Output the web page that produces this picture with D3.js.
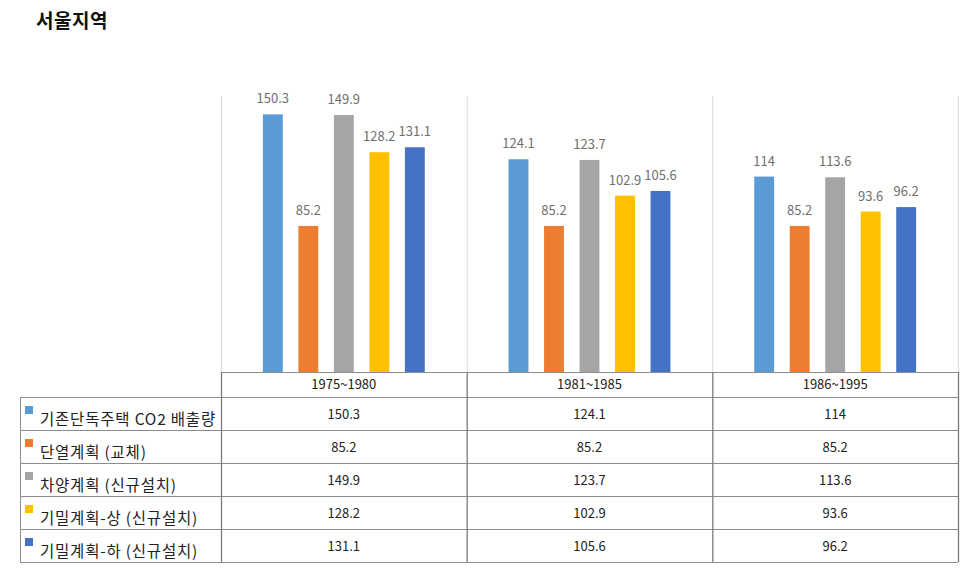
<!DOCTYPE html>
<html><head><meta charset="utf-8">
<script src="https://cdn.jsdelivr.net/npm/d3@7/dist/d3.min.js"></script>
<style>body{margin:0;background:#fff;}svg{display:block;}</style>
</head><body>
<svg id="c" width="963" height="578"></svg>
<script>
const title = "서울지역";
const categories = ["1975~1980", "1981~1985", "1986~1995"];
const seriesNames = ["기존단독주택 CO2 배출량", "단열계획 (교체)", "차양계획 (신규설치)", "기밀계획-상 (신규설치)", "기밀계획-하 (신규설치)"];
const seriesColors = ["#5B9BD5", "#ED7D31", "#A5A5A5", "#FFC000", "#4472C4"];
const s1 = [150.3, 124.1, 114];
const s2 = [85.2, 85.2, 85.2];
const s3 = [149.9, 123.7, 113.6];
const s4 = [128.2, 102.9, 93.6];
const s5 = [131.1, 105.6, 96.2];
const seriesValues = [s1, s2, s3, s4, s5];
const yMax = 161;

const svg = d3.select("#c");
const font = "'Noto Sans CJK KR','Noto Sans',sans-serif";
const L = 221, R = 958, T = 96, B = 372;
const tableLeft = 20;
const headerBottom = 397, rowH = 33;

svg.append("text").attr("x", 36).attr("y", 28).text(title)
  .attr("font-family", font).attr("font-size", 19).attr("font-weight", "bold").attr("fill", "#111")
  .attr("letter-spacing", 0.5);

const x0 = d3.scaleBand().domain(categories).range([L, R]).padding(0);
const x1 = d3.scaleBand().domain(d3.range(seriesNames.length)).range([0, x0.bandwidth()]).paddingInner(0.44).paddingOuter(1.18);
const y = d3.scaleLinear().domain([0, yMax]).range([B, T]);

// vertical category separators in plot area
const seps = categories.map(c => x0(c)).concat([R]);
svg.append("g").selectAll("line").data(seps).join("line")
  .attr("x1", d => d + 0.5).attr("x2", d => d + 0.5).attr("y1", T).attr("y2", B)
  .attr("stroke", "#d9d9d9").attr("stroke-width", 1);

// bars
const g = svg.append("g");
seriesValues.forEach((vals, si) => {
  g.append("g").selectAll("rect").data(vals).join("rect")
    .attr("x", (d, i) => x0(categories[i]) + x1(si))
    .attr("width", x1.bandwidth())
    .attr("y", d => y(d))
    .attr("height", d => B - y(d))
    .attr("fill", seriesColors[si]);
  g.append("g").selectAll("text").data(vals).join("text")
    .attr("x", (d, i) => x0(categories[i]) + x1(si) + x1.bandwidth() / 2)
    .attr("y", d => y(d) - 11)
    .attr("text-anchor", "middle")
    .attr("font-family", font).attr("font-size", 13).attr("fill", "#6f6f6f")
    .text(d => d);
});

// data table
const tg = svg.append("g");
const lineCol = "#8c8c8c";
const tableBottom = headerBottom + rowH * seriesNames.length;
tg.append("line").attr("x1", L).attr("x2", R).attr("y1", B + 0.5).attr("y2", B + 0.5).attr("stroke", lineCol);
d3.range(seriesNames.length + 1).forEach(i => {
  const yy = headerBottom + i * rowH + 0.5;
  tg.append("line").attr("x1", tableLeft).attr("x2", R).attr("y1", yy).attr("y2", yy).attr("stroke", lineCol);
});
tg.append("line").attr("x1", tableLeft + 0.5).attr("x2", tableLeft + 0.5).attr("y1", headerBottom).attr("y2", tableBottom).attr("stroke", lineCol);
seps.forEach(sx => {
  tg.append("line").attr("x1", sx + 0.5).attr("x2", sx + 0.5).attr("y1", B).attr("y2", tableBottom).attr("stroke", "#7a7a7a").attr("stroke-width", 1.3);
});
tg.selectAll("text.h").data(categories).join("text").attr("class", "h")
  .attr("x", d => x0(d) + x0.bandwidth() / 2).attr("y", (B + headerBottom) / 2 + 4.5)
  .attr("text-anchor", "middle").attr("font-family", font).attr("font-size", 13).attr("fill", "#222")
  .text(d => d);
seriesNames.forEach((name, si) => {
  const top = headerBottom + si * rowH;
  tg.append("rect").attr("x", 25).attr("y", top + 9).attr("width", 8).attr("height", 8).attr("fill", seriesColors[si]);
  tg.append("text").attr("x", 40).attr("y", top + 28)
    .attr("font-family", font).attr("font-size", 15.5).attr("letter-spacing", 0.8).attr("fill", "#222").text(name);
  seriesValues[si].forEach((v, ci) => {
    tg.append("text").attr("x", x0(categories[ci]) + x0.bandwidth() / 2).attr("y", top + rowH / 2 + 5)
      .attr("text-anchor", "middle").attr("font-family", font).attr("font-size", 13).attr("fill", "#222").text(v);
  });
});
</script>
</body></html>
